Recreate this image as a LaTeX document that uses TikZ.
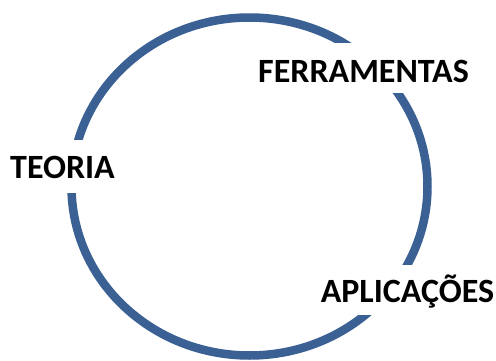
\documentclass[tikz,border=0pt]{standalone}
\usepackage{fontspec}
\setmainfont{Carlito}
\definecolor{ringblue}{RGB}{59,97,148}
\begin{document}
\begin{tikzpicture}[x=1pt,y=1pt,
  ring/.style={draw=ringblue,line width=8.5pt},
  lbl/.style={fill=white,inner xsep=6pt,inner ysep=0pt,anchor=base,
    font=\bfseries\fontsize{34}{40}\selectfont,text=black}]
\useasboundingbox (0,0) rectangle (496,360);
\draw[ring] (249.5,173.5) ellipse [x radius=178pt,y radius=169pt];
\node[lbl,text height=39pt,text depth=11pt] (ferr) at (363.5,278) {FERRAMENTAS};
\node[lbl,text height=38pt,text depth=15pt] (teor) at (62.5,182) {TEORIA};
\node[lbl,text height=37pt,text depth=13pt] (apli) at (407.5,58) {APLICAÇÕES};
\end{tikzpicture}
\end{document}
